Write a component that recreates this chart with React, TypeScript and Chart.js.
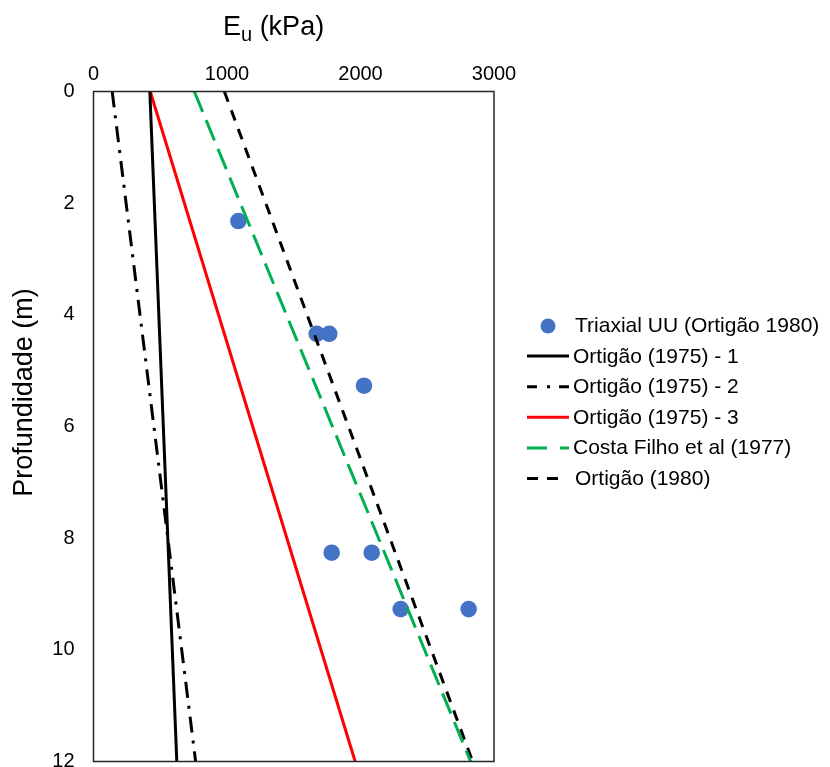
import React, { useEffect, useRef } from "react";
import { Chart, registerables } from "chart.js";

Chart.register(...registerables);

// ---- Data ----
const xTicks = [0, 1000, 2000, 3000];
const yTicks = [0, 2, 4, 6, 8, 10, 12];

const triaxialE = [1085, 1672, 1766, 2026, 1784, 2084, 2301, 2810];
const triaxialDepth = [2.32, 4.34, 4.34, 5.27, 8.26, 8.26, 9.27, 9.27];

const lineDepth = [0, 12];
const ortigao1975_1 = [422, 624];
const ortigao1975_2 = [140, 765];
const ortigao1975_3 = [425, 1960];
const costaFilho1977 = [755, 2825];
const ortigao1980 = [980, 2840];

const legendLabels = [
  "Triaxial UU (Ortigão 1980)",
  "Ortigão (1975) - 1",
  "Ortigão (1975) - 2",
  "Ortigão (1975) - 3",
  "Costa Filho et al (1977)",
  "Ortigão (1980)",
];

const FONT = '"Liberation Sans", Arial, sans-serif';

function toXY(xs: number[], ys: number[]) {
  return xs.map((x, i) => ({ x, y: ys[i] }));
}

const overlay = {
  id: "overlay",
  afterDraw(chart: any) {
    const ctx = chart.ctx as CanvasRenderingContext2D;
    const a = chart.chartArea;
    ctx.save();
    // frame
    ctx.strokeStyle = "#262626";
    ctx.lineWidth = 1.5;
    ctx.setLineDash([]);
    ctx.strokeRect(a.left, a.top, a.right - a.left, a.bottom - a.top);

    // x title with subscript
    ctx.fillStyle = "#000";
    ctx.textBaseline = "alphabetic";
    ctx.textAlign = "left";
    let x = 223;
    ctx.font = `27px ${FONT}`;
    ctx.fillText("E", x, 35);
    x += ctx.measureText("E").width;
    ctx.font = `20px ${FONT}`;
    ctx.fillText("u", x, 41);
    x += ctx.measureText("u").width;
    ctx.font = `27px ${FONT}`;
    ctx.fillText(" (kPa)", x, 35);

    // y title
    ctx.save();
    ctx.translate(31.5, 392.5);
    ctx.rotate(-Math.PI / 2);
    ctx.textAlign = "center";
    ctx.font = `27px ${FONT}`;
    ctx.fillText("Profundidade (m)", 0, 0);
    ctx.restore();

    // legend
    const ds = chart.data.datasets;
    const legendDashes: number[][] = [[], [], [10, 10, 3, 9, 10], [], [20, 13], [11, 9]];
    ctx.font = `21px ${FONT}`;
    ctx.textAlign = "left";
    for (let i = 0; i < legendLabels.length; i++) {
      const base = 332 + i * 30.6;
      const d = ds[i];
      if (i === 0) {
        ctx.beginPath();
        ctx.fillStyle = d.backgroundColor;
        ctx.arc(548, base - 6, 7.5, 0, Math.PI * 2);
        ctx.fill();
        ctx.fillStyle = "#000";
        ctx.fillText(legendLabels[i], 575, base);
      } else {
        ctx.beginPath();
        ctx.strokeStyle = d.borderColor;
        ctx.lineWidth = 3;
        ctx.setLineDash(legendDashes[i]);
        const endX = i === 5 ? 560 : 569;
        ctx.moveTo(527, base - 6.5);
        ctx.lineTo(endX, base - 6.5);
        ctx.stroke();
        ctx.setLineDash([]);
        ctx.fillStyle = "#000";
        ctx.fillText(legendLabels[i], i === 5 ? 575 : 573, base);
      }
    }
    ctx.restore();
  },
};

export default function App() {
  const ref = useRef<HTMLCanvasElement>(null);

  useEffect(() => {
    const canvas = ref.current!;
    const lineDs = (label: string, xs: number[], color: string, dash: number[]) => ({
      type: "scatter" as const,
      label,
      data: toXY(xs, lineDepth),
      showLine: true,
      borderColor: color,
      backgroundColor: color,
      borderWidth: 3,
      borderDash: dash,
      pointRadius: 0,
      order: 0,
    });
    const chart = new Chart(canvas, {
      type: "scatter",
      data: {
        datasets: [
          {
            label: legendLabels[0],
            data: toXY(triaxialE, triaxialDepth),
            backgroundColor: "#4472C4",
            borderColor: "#4472C4",
            pointRadius: 8.3,
            pointBorderWidth: 0,
            order: 10,
          } as any,
          lineDs(legendLabels[1], ortigao1975_1, "#000000", []),
          lineDs(legendLabels[2], ortigao1975_2, "#000000", [16, 8, 3, 8]),
          lineDs(legendLabels[3], ortigao1975_3, "#FF0000", []),
          lineDs(legendLabels[4], costaFilho1977, "#00B050", [22, 9]),
          lineDs(legendLabels[5], ortigao1980, "#000000", [11, 9]),
        ],
      },
      options: {
        responsive: false,
        animation: false,
        events: [],
        layout: { autoPadding: false, padding: { left: 0, top: 0, right: 336, bottom: 5.5 } },
        plugins: {
          legend: { display: false },
          tooltip: { enabled: false },
          title: { display: false },
        },
        scales: {
          x: {
            type: "linear",
            position: "top",
            min: 0,
            max: 3000,
            afterBuildTicks: (s: any) => {
              s.ticks = xTicks.map((v) => ({ value: v }));
            },
            afterFit: (s: any) => {
              s.height = 91.5;
              s.paddingLeft = 0;
              s.paddingRight = 0;
              s.paddingTop = 0;
              s.paddingBottom = 0;
            },
            grid: { display: false, drawTicks: false },
            border: { display: false },
            ticks: {
              color: "#000",
              font: { family: FONT, size: 20 },
              padding: 5,
              maxRotation: 0,
              autoSkip: false,
              callback: (v: any) => String(v),
            },
          },
          y: {
            type: "linear",
            reverse: true,
            min: 0,
            max: 12,
            afterBuildTicks: (s: any) => {
              s.ticks = yTicks.map((v) => ({ value: v }));
            },
            afterFit: (s: any) => {
              s.width = 93.5;
              s.paddingLeft = 0;
              s.paddingRight = 0;
              s.paddingTop = 0;
              s.paddingBottom = 0;
            },
            grid: { display: false, drawTicks: false },
            border: { display: false },
            ticks: {
              color: "#000",
              font: { family: FONT, size: 20 },
              padding: 19,
              autoSkip: false,
              callback: (v: any) => String(v),
            },
          },
        },
      },
      plugins: [overlay],
    });
    return () => chart.destroy();
  }, []);

  return (
    <div style={{ position: "fixed", left: 0, top: 0, width: 830, height: 767, overflow: "hidden", background: "#fff" }}>
      <canvas ref={ref} width={830} height={767} style={{ display: "block", width: 830, height: 767 }} />
    </div>
  );
}
